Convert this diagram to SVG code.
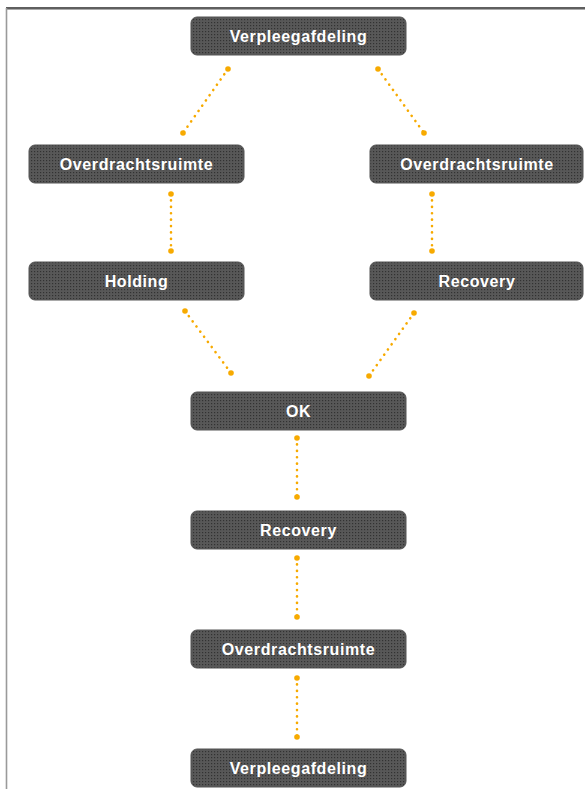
<svg xmlns="http://www.w3.org/2000/svg" width="585" height="789" viewBox="0 0 585 789">
  <defs>
    <pattern id="tex" width="3" height="3" patternUnits="userSpaceOnUse">
      <rect width="3" height="3" fill="#585858"/>
      <rect x="1" y="1" width="1.2" height="1.2" fill="#333"/>
    </pattern>
    <filter id="soft" x="-5%" y="-20%" width="110%" height="140%">
      <feGaussianBlur stdDeviation="0.6"/>
    </filter>
  </defs>
  <style>
    .box { fill: url(#tex); stroke: #555; stroke-width: 1; filter: url(#soft); }
    .lbl { fill: #ffffff; font-family: "Liberation Sans", Arial, sans-serif; font-weight: bold; font-size: 16px; letter-spacing: 0.6px; text-anchor: middle; }
    .con { stroke: #f7aa00; stroke-width: 2.6; stroke-dasharray: 0.1 6.3; stroke-linecap: round; fill: none; }
    .end { fill: #f7aa00; }
  </style>
  <rect width="585" height="789" fill="#ffffff"/>
  <line x1="6" y1="8" x2="585" y2="8" stroke="#2a2a2a" stroke-width="1.6"/>
  <line x1="6" y1="9.5" x2="585" y2="9.5" stroke="#aaaaaa" stroke-width="1"/>
  <line x1="6.5" y1="8" x2="6.5" y2="789" stroke="#9a9a9a" stroke-width="1.6"/>

  <g id="connectors">
    <line class="con" x1="228" y1="69" x2="183" y2="133"/>
    <circle class="end" cx="228" cy="69" r="2.8"/><circle class="end" cx="183" cy="133" r="2.8"/>
    <line class="con" x1="378" y1="69" x2="424" y2="133"/>
    <circle class="end" cx="378" cy="69" r="2.8"/><circle class="end" cx="424" cy="133" r="2.8"/>
    <line class="con" x1="171" y1="194" x2="171" y2="251"/>
    <circle class="end" cx="171" cy="194" r="2.8"/><circle class="end" cx="171" cy="251" r="2.8"/>
    <line class="con" x1="432" y1="194" x2="432" y2="251"/>
    <circle class="end" cx="432" cy="194" r="2.8"/><circle class="end" cx="432" cy="251" r="2.8"/>
    <line class="con" x1="185" y1="311" x2="231" y2="373"/>
    <circle class="end" cx="185" cy="311" r="2.8"/><circle class="end" cx="231" cy="373" r="2.8"/>
    <line class="con" x1="414" y1="313" x2="369" y2="376"/>
    <circle class="end" cx="414" cy="313" r="2.8"/><circle class="end" cx="369" cy="376" r="2.8"/>
    <line class="con" x1="297" y1="438" x2="297" y2="497"/>
    <circle class="end" cx="297" cy="438" r="2.8"/><circle class="end" cx="297" cy="497" r="2.8"/>
    <line class="con" x1="297" y1="558" x2="297" y2="617"/>
    <circle class="end" cx="297" cy="558" r="2.8"/><circle class="end" cx="297" cy="617" r="2.8"/>
    <line class="con" x1="297" y1="678" x2="297" y2="737"/>
    <circle class="end" cx="297" cy="678" r="2.8"/><circle class="end" cx="297" cy="737" r="2.8"/>
  </g>

  <g id="n-verpleeg-top">
    <rect class="box" x="191" y="17" width="215" height="38" rx="6"/>
    <text class="lbl" x="298.5" y="42">Verpleegafdeling</text>
  </g>
  <g id="n-overdracht-left">
    <rect class="box" x="29" y="145" width="215" height="38" rx="6"/>
    <text class="lbl" x="136.5" y="170">Overdrachtsruimte</text>
  </g>
  <g id="n-overdracht-right">
    <rect class="box" x="370" y="145" width="213" height="38" rx="6"/>
    <text class="lbl" x="477" y="170">Overdrachtsruimte</text>
  </g>
  <g id="n-holding">
    <rect class="box" x="29" y="262" width="215" height="38" rx="6"/>
    <text class="lbl" x="136.5" y="287">Holding</text>
  </g>
  <g id="n-recovery-right">
    <rect class="box" x="370" y="262" width="213" height="38" rx="6"/>
    <text class="lbl" x="477" y="287">Recovery</text>
  </g>
  <g id="n-ok">
    <rect class="box" x="191" y="392" width="215" height="38" rx="6"/>
    <text class="lbl" x="298.5" y="417">OK</text>
  </g>
  <g id="n-recovery">
    <rect class="box" x="191" y="511" width="215" height="38" rx="6"/>
    <text class="lbl" x="298.5" y="536">Recovery</text>
  </g>
  <g id="n-overdracht-bottom">
    <rect class="box" x="191" y="630" width="215" height="38" rx="6"/>
    <text class="lbl" x="298.5" y="655">Overdrachtsruimte</text>
  </g>
  <g id="n-verpleeg-bottom">
    <rect class="box" x="191" y="749" width="215" height="38" rx="6"/>
    <text class="lbl" x="298.5" y="774">Verpleegafdeling</text>
  </g>
</svg>
